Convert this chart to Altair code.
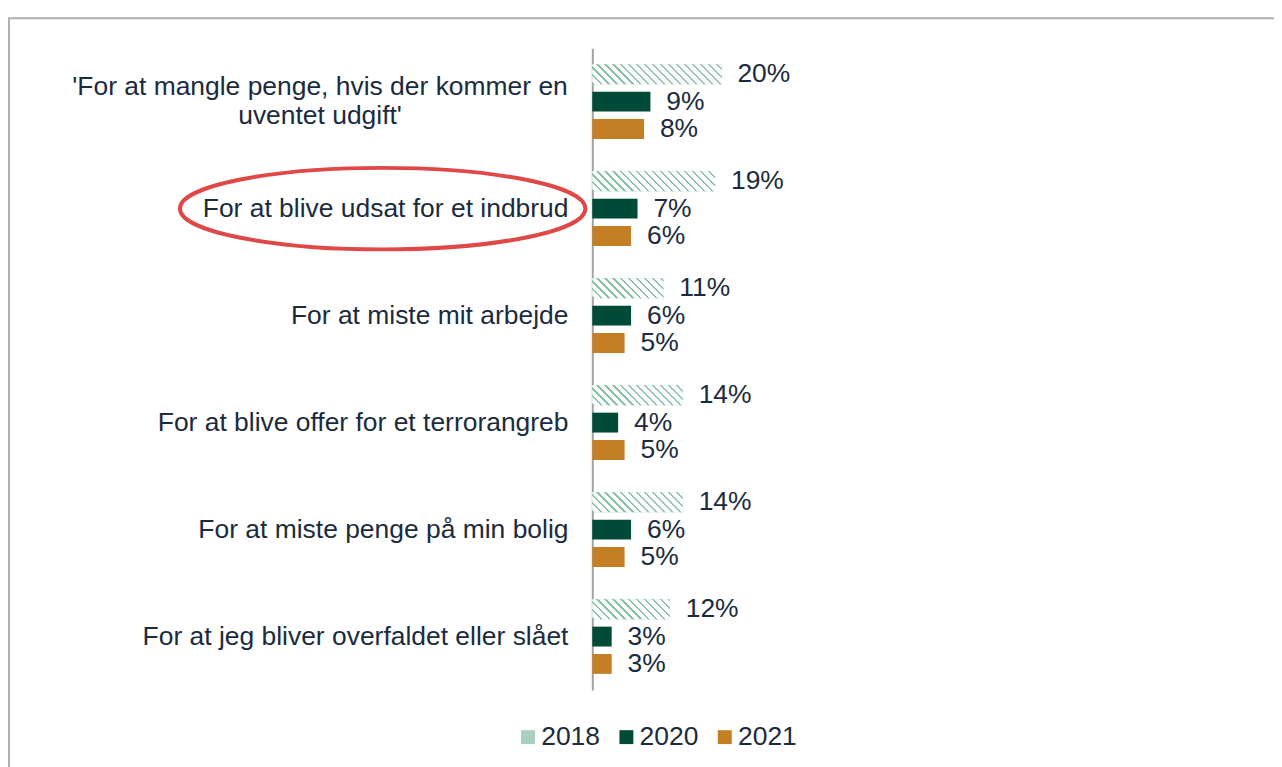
import altair as alt
import pandas as pd

# ---- data ----
category_lines = [
    ["'For at mangle penge, hvis der kommer en", "uventet udgift'"],
    ["For at blive udsat for et indbrud"],
    ["For at miste mit arbejde"],
    ["For at blive offer for et terrorangreb"],
    ["For at miste penge på min bolig"],
    ["For at jeg bliver overfaldet eller slået"],
]
categories = [" ".join(l) for l in category_lines]
years = ["2018", "2020", "2021"]
values_2018 = [20, 19, 11, 14, 14, 12]
values_2020 = [9, 7, 6, 4, 6, 3]
values_2021 = [8, 6, 5, 5, 5, 3]
highlighted = "For at blive udsat for et indbrud"

series = {"2018": values_2018, "2020": values_2020, "2021": values_2021}
rows = []
for y in years:
    for c, v in zip(categories, series[y]):
        rows.append({"cat": c, "year": y, "value": v, "label": f"{v}%"})
df = pd.DataFrame(rows)
cat_df = pd.DataFrame({"cat": categories,
                       "text": ["\n".join(l) for l in category_lines],
                       "lines": [len(l) for l in category_lines]})

# ---- layout / style ----
W, H = 650, 646
XMAX = 100
PI_OFF, PO_OFF = 0.273, 0.593
TEXT = "#1b2b3e"
FONT = "Liberation Sans"
FS = 26.6
LH = 30
C2018, C2020, C2021 = "#a9d0be", "#004a38", "#c47f25"
STRIPE = "#8cc2a9"

step = H / len(categories)
sub_step = step / (len(years) - PI_OFF + 2 * PO_OFF)
bar_h = sub_step * (1 - PI_OFF)

y_enc = alt.Y("cat:N", sort=categories,
              scale=alt.Scale(paddingInner=0, paddingOuter=0),
              axis=alt.Axis(labels=False, ticks=False, title=None, grid=False,
                            domainColor="#a3a3a3", domainWidth=2))
yoff_enc = alt.YOffset("year:N", sort=years,
                       scale=alt.Scale(paddingInner=PI_OFF, paddingOuter=PO_OFF))
x_enc = alt.X("value:Q", scale=alt.Scale(domain=[0, XMAX]), axis=None)

base = alt.Chart(df)

bars = base.mark_bar(stroke=None).encode(
    x=x_enc, y=y_enc, yOffset=yoff_enc,
    color=alt.Color("year:N", sort=years,
                    scale=alt.Scale(domain=years, range=[C2018, C2020, C2021]),
                    legend=alt.Legend(title=None, orient="none", direction="horizontal",
                                      legendX=-78, legendY=680,
                                      symbolType="square", symbolSize=196,
                                      symbolStrokeWidth=0,
                                      labelFont=FONT, labelFontSize=FS,
                                      labelColor=TEXT, columnPadding=13,
                                      labelOffset=0, padding=0)),
)


def hatch_gradient(w, h, period=8.0, line=2.2):
    c = (w + h) / (w * w + h * h)
    total = w + h
    stops = []
    k = 0
    while k * period < total + period:
        s = k * period / total
        e = (k * period + line) / total
        nxt = (k + 1) * period / total
        for off, col in ((s, STRIPE), (e, STRIPE), (e, "#ffffff"), (nxt, "#ffffff")):
            stops.append({"offset": min(max(off, 0.0), 1.0), "color": col})
        k += 1
    return {"gradient": "linear", "x1": 0, "y1": 1, "x2": c * w, "y2": 1 - c * h,
            "stops": stops}


hatch_layers = []
for c, v in zip(categories, values_2018):
    w = v * W / XMAX
    hatch_layers.append(
        base.transform_filter((alt.datum.cat == c) & (alt.datum.year == "2018"))
        .mark_bar(fill=hatch_gradient(w, bar_h), stroke=None)
        .encode(x=x_enc, y=y_enc, yOffset=yoff_enc)
    )

value_text = base.mark_text(align="left", baseline="middle", dx=16,
                            font=FONT, fontSize=FS, color=TEXT).encode(
    x=x_enc, y=y_enc, yOffset=yoff_enc, text="label:N")

cat_base = alt.Chart(cat_df)
cat_text_single = cat_base.transform_filter(alt.datum.lines == 1).mark_text(
    align="right", baseline="middle", font=FONT, fontSize=FS, color=TEXT
).encode(x=alt.value(-24), y=y_enc, text="text:N")
cat_text_multi = cat_base.transform_filter(alt.datum.lines > 1).mark_text(
    align="center", baseline="middle", font=FONT, fontSize=FS, color=TEXT,
    lineBreak="\n", lineHeight=LH, dy=-LH / 2
).encode(x=alt.value(-274), y=y_enc, text="text:N")

ellipse = cat_base.transform_filter(alt.datum.cat == highlighted).mark_point(
    shape="M-1,0A1,0.201,0,1,1,1,0A1,0.201,0,1,1,-1,0Z",
    size=408 * 408, filled=False, stroke="#e04848", strokeWidth=4, opacity=1
).encode(x=alt.value(-211), y=y_enc)

border = alt.Chart(pd.DataFrame({"a": [0]})).mark_rect(
    fill="transparent", stroke="#b0b0b0", strokeWidth=2
).encode(x=alt.value(-587), x2=alt.value(2000), y=alt.value(-30), y2=alt.value(2000))

chart = alt.layer(border, bars, *hatch_layers, value_text, cat_text_single,
                  cat_text_multi, ellipse).properties(
    width=W, height=H,
    autosize=alt.AutoSizeParams(type="none"),
    padding={"left": 588, "top": 38, "right": 36, "bottom": 75},
    background="white",
).configure_view(stroke=None)

chart.save("out.html", embed_options={"renderer": "svg", "actions": False})
